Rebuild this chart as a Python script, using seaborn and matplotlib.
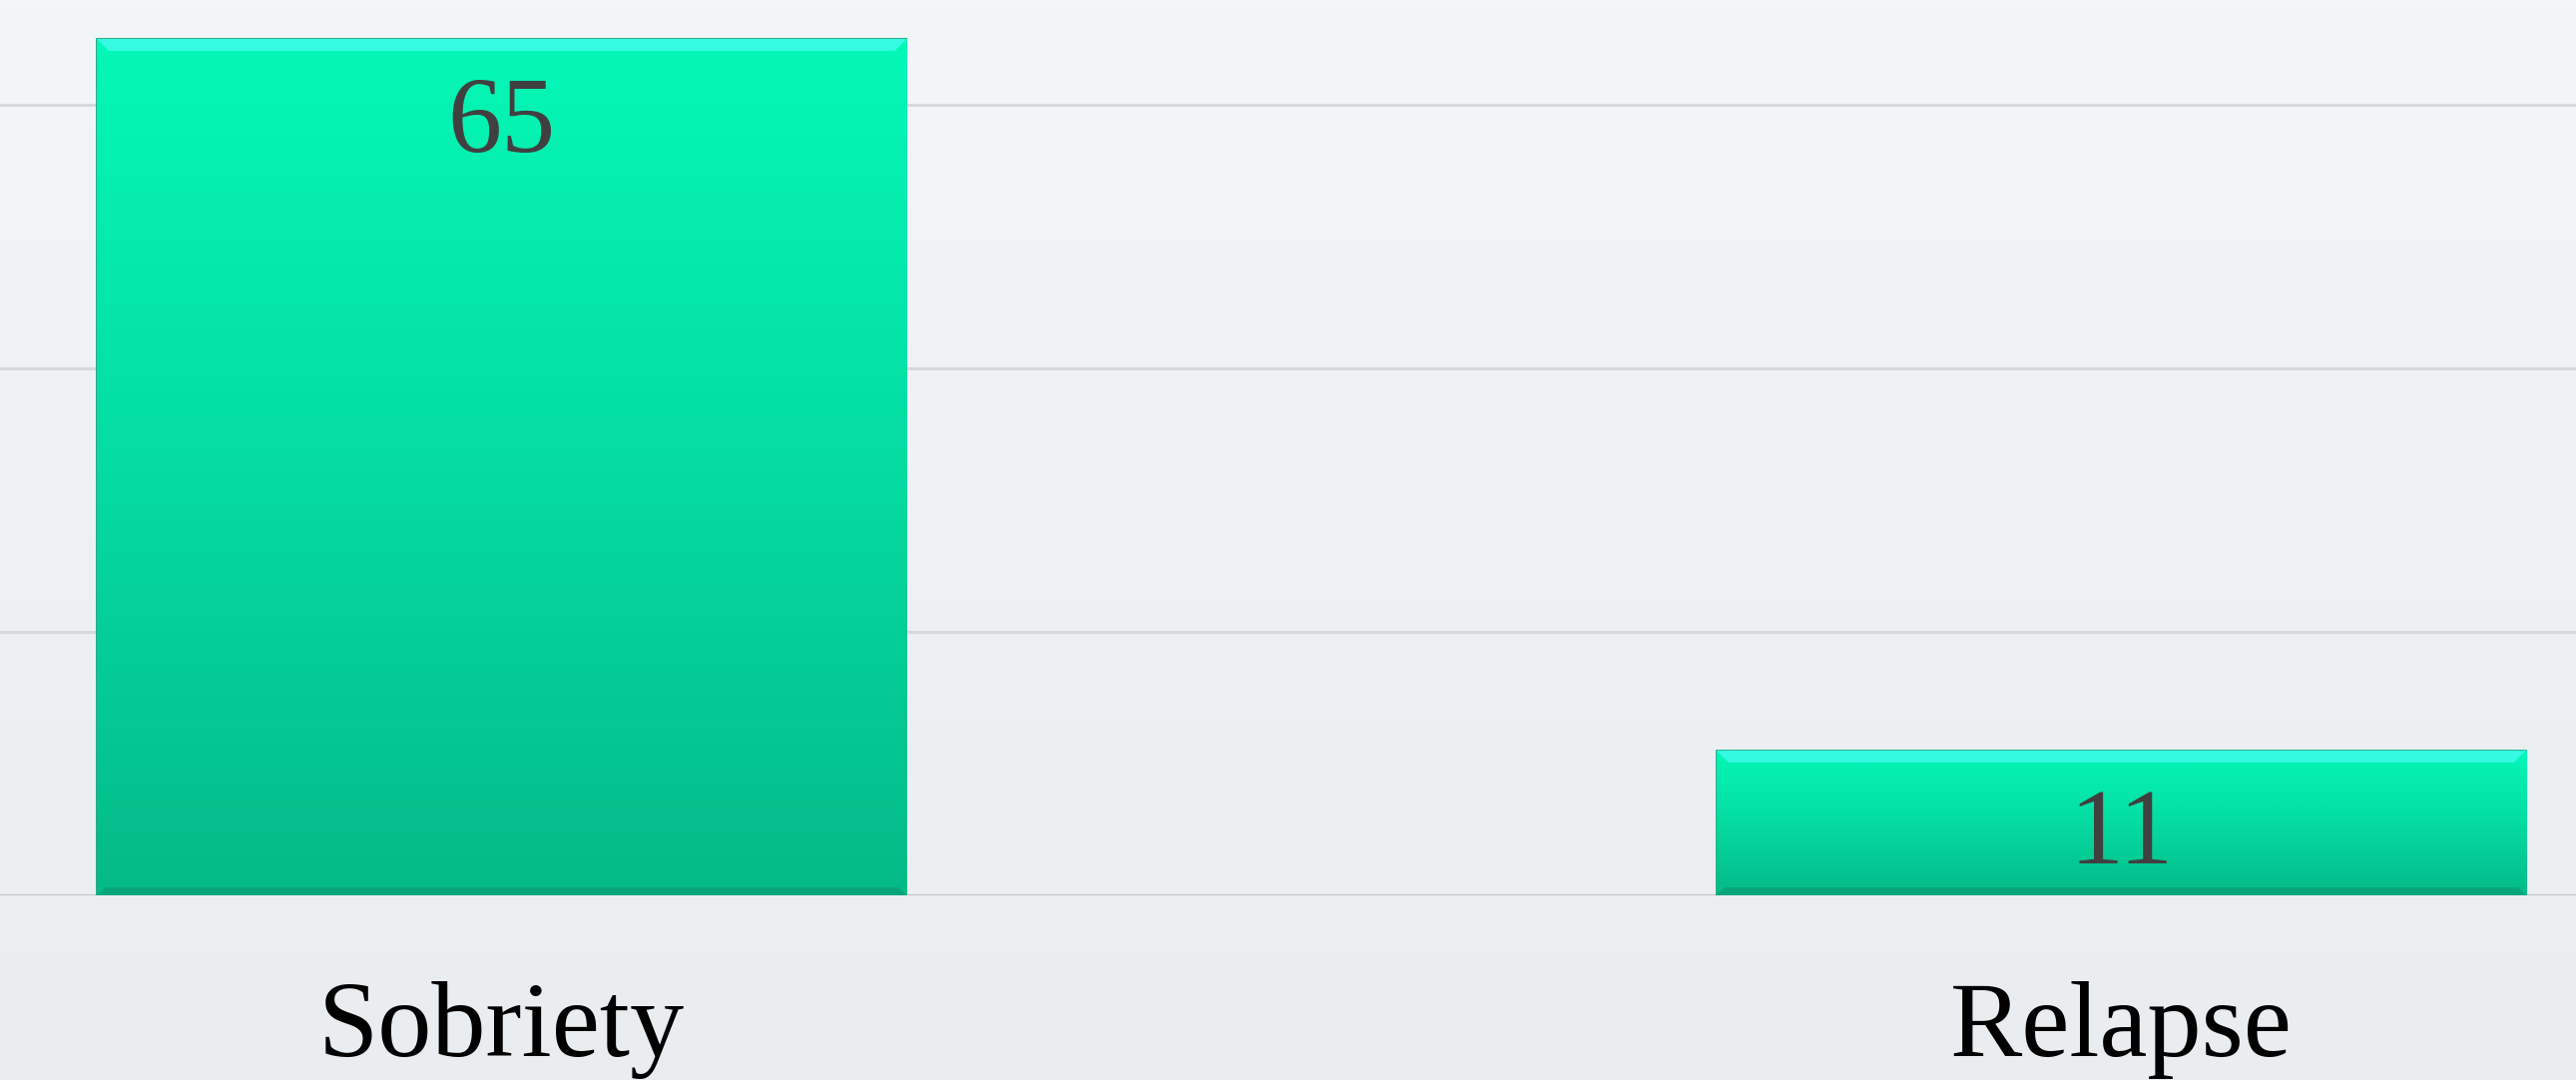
import numpy as np
import pandas as pd
import matplotlib
matplotlib.use("Agg")
import matplotlib.pyplot as plt
import matplotlib.colors as mcolors
from matplotlib.patches import Rectangle, Polygon
import seaborn as sns

categories = ["Sobriety", "Relapse"]
values = [65, 11]
gridlines = [0, 20, 40, 60]

sns.set_theme(style="white")
plt.rcParams['font.family'] = ['Liberation Serif', 'DejaVu Serif']

W, H = 2581, 1082
dpi = 100
fig = plt.figure(figsize=(W / dpi, H / dpi), dpi=dpi)

# background gradient
bg = fig.add_axes([0, 0, 1, 1], zorder=0)
bg.set_axis_off()
grad = np.linspace(0, 1, 256).reshape(-1, 1)
bg_cmap = mcolors.LinearSegmentedColormap.from_list("bg", ["#F3F6F9", "#E9EDF0"])
bg.imshow(grad, aspect="auto", cmap=bg_cmap, extent=[0, 1, 0, 1], origin="upper")

base_px = 897
ax = fig.add_axes([0, (H - base_px) / H, 1, base_px / H], zorder=1)
ax.patch.set_alpha(0)

df = pd.DataFrame({"category": categories, "value": values})
sns.barplot(data=df, x="category", y="value", color="#05D9A0", width=0.5,
            ax=ax, zorder=3, edgecolor="#079a72", linewidth=1.2)

px_per_unit = 13.2
ax.set_ylim(0, base_px / px_per_unit)
ax.set_xlim(-0.25 - 97 / 1623, 1.25 + 50 / 1623)

for g in gridlines:
    ax.axhline(g, color="#D6D9DC" if g else "#BFC2C5", lw=2.2, zorder=1)

bar_cmap = mcolors.LinearSegmentedColormap.from_list("bar", ["#04F8B7", "#04DCA2", "#05BA87"])
xu = 1 / 1623  # data units per pixel in x
for p, v in zip(ax.patches, values):
    x0, y0 = p.get_x(), p.get_y()
    w, h = p.get_width(), p.get_height()
    im = ax.imshow(grad, aspect="auto", cmap=bar_cmap,
                   extent=[x0, x0 + w, y0, y0 + h], origin="upper", zorder=4)
    im.set_clip_path(p)
    # top bevel highlight (trapezoid)
    bev = 12 / px_per_unit
    top = y0 + h
    ax.add_patch(Polygon([(x0, top), (x0 + w, top), (x0 + w - 12 * xu, top - bev),
                          (x0 + 12 * xu, top - bev)], closed=True,
                         facecolor="#3DFCEB", edgecolor="none", alpha=0.85, zorder=5))
    # bottom darker bevel
    ax.add_patch(Polygon([(x0, y0), (x0 + w, y0), (x0 + w - 8 * xu, y0 + 8 / px_per_unit),
                          (x0 + 8 * xu, y0 + 8 / px_per_unit)], closed=True,
                         facecolor="#069E74", edgecolor="none", alpha=0.7, zorder=5))
    ax.text(x0 + w / 2, v - 38 / px_per_unit, f"{v}", ha="center", va="top",
            fontsize=78, color="#404040", zorder=6)

ax.set_xlabel("")
ax.set_ylabel("")
ax.set_yticks([])
ax.tick_params(axis="x", length=0, pad=62, labelsize=78, labelcolor="#000000")
ax.set_ylim(0, base_px / px_per_unit)
ax.set_xlim(-0.25 - 97 / 1623, 1.25 + 50 / 1623)
for s in ax.spines.values():
    s.set_visible(False)

fig.savefig("out.png", dpi=dpi)
